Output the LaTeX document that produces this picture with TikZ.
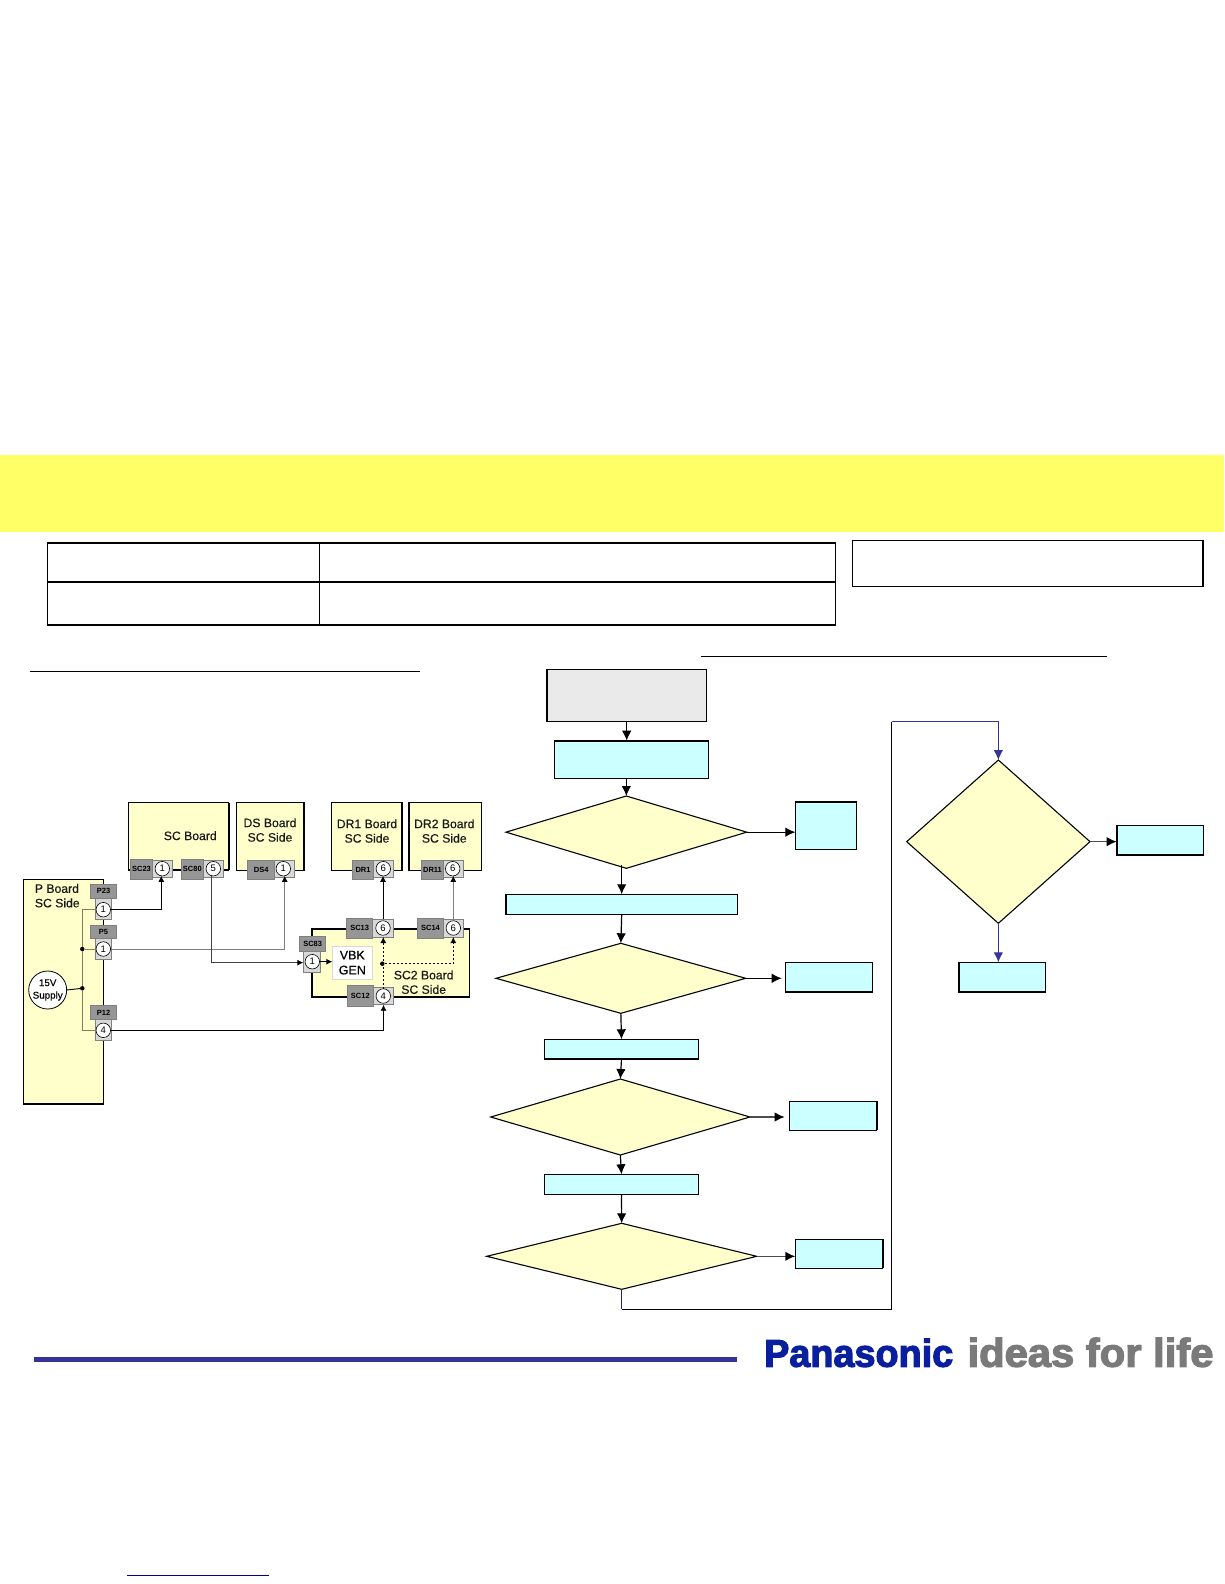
\documentclass[tikz,border=0pt]{standalone}
\usepackage{fontspec}
\setmainfont{Liberation Sans}
\newfontfamily\logofont[FakeBold=3]{Liberation Sans Bold}
\newfontfamily\medfont[FakeBold=0.35]{Liberation Sans}
\usetikzlibrary{arrows.meta,shapes.geometric,calc}
\definecolor{bandY}{HTML}{FFFF66}
\definecolor{boxC}{HTML}{CCFFFF}
\definecolor{diaY}{HTML}{FFFFCC}
\definecolor{startG}{HTML}{EAEAEA}
\definecolor{darkG}{HTML}{969696}
\definecolor{lightG}{HTML}{D9D9D9}
\definecolor{wireG}{HTML}{808080}
\definecolor{busG}{HTML}{807F5C}
\definecolor{navyB}{HTML}{333399}
\definecolor{linkB}{HTML}{000099}
\definecolor{logoB}{HTML}{0A1F9E}
\definecolor{logoG}{HTML}{7A7A7A}
\tikzset{
  plain/.style={rectangle,inner sep=0pt,outer sep=0pt},
  flowbox/.style={plain,draw=black,line width=1.1pt,fill=boxC},
  startbox/.style={plain,draw=black,line width=1.1pt,fill=startG},
  board/.style={plain,draw=black,line width=1.2pt,fill=diaY},
  conn/.style={plain,draw=wireG,line width=0.7pt,fill=darkG,font=\bfseries\fontsize{7.5}{8}\selectfont},
  pinbox/.style={plain,draw=wireG,line width=0.7pt,fill=lightG},
  pin/.style={circle,draw=black,line width=0.6pt,fill=white,minimum size=14.5pt,inner sep=0pt,outer sep=0pt,font=\fontsize{9.5}{9.5}\selectfont},
  dec/.style={diamond,draw=black,line width=1.1pt,fill=diaY,inner sep=0pt,outer sep=0pt},
  boardtext/.style={align=center,inner sep=0pt,font=\medfont\fontsize{12.2}{14.5}\selectfont,text=black!90},
  jdot/.style={circle,fill=black,minimum size=4.5pt,inner sep=0pt,outer sep=0pt},
  flow/.style={draw=black,line width=1.2pt,-{Latex[length=10pt,width=9.5pt]}},
  flowg/.style={draw=black!70,line width=1.5pt,arrows={-{Latex[length=10pt,width=9.5pt,black]}}},
  flowb/.style={draw=navyB,line width=1.1pt,-{Latex[length=10pt,width=9.5pt]}},
  wire/.style={draw=black,line width=0.9pt},
  wireg/.style={draw=wireG,line width=0.9pt},
  tip/.style={-{Latex[length=6pt,width=6pt,black]}},
  thickedge/.style={draw=black,line width=2.2pt},
  rule/.style={draw=black,line width=1.2pt},
}
\newcommand{\bx}[7]{\node[#6,minimum width={(#4-#2)*1pt},minimum height={(#5-#3)*1pt}] (#1) at ({(#2+#4)/2},{(#3+#5)/2}) {#7};}
\newcommand{\dm}[6]{\node[dec,minimum width={(#4-#2)*1pt},minimum height={(#5-#3)*1pt}] (#1) at ({(#2+#4)/2},{(#3+#5)/2}) {};}
\begin{document}
\begin{tikzpicture}[x=1pt,y=-1pt]
\useasboundingbox (0,0) rectangle (1224,1584);
\fill[white] (0,0) rectangle (1224,1584);
% band
\bx{band}{0}{454.5}{1224}{532}{plain,fill=bandY}{}
% table
\bx{t11}{47.5}{542.7}{319.3}{581.7}{plain,draw=black,line width=0.7pt}{}
\bx{t12}{319.3}{542.7}{835.5}{581.7}{plain,draw=black,line width=0.7pt}{}
\bx{t21}{47.5}{581.7}{319.3}{625}{plain,draw=black,line width=0.7pt}{}
\bx{t22}{319.3}{581.7}{835.5}{625}{plain,draw=black,line width=0.7pt}{}
\draw[thickedge] (t11.north west) -- (t12.north east);
\draw[thickedge] (t21.north west) -- (t22.north east);
\draw[thickedge] (t21.south west) -- (t22.south east);
\draw[draw=black,line width=1.6pt] (t12.north east) -- (t22.south east);
\bx{note}{852.5}{540.3}{1203}{586.7}{plain,draw=black,line width=1.3pt}{}
% underlines
\coordinate (ulLa) at (29.7,671.3); \coordinate (ulLb) at (420,671.3);
\coordinate (ulRa) at (701,656.3); \coordinate (ulRb) at (1107,656.3);
\draw[rule] (ulLa) -- (ulLb);
\draw[rule] (ulRa) -- (ulRb);
% flowchart boxes
\bx{st}{546.7}{669.3}{706.7}{721.7}{startbox}{}
\bx{c1}{554.3}{740.7}{708.7}{778.3}{flowbox}{}
\dm{d1}{506}{796}{746.7}{868.3}{}
\bx{r1}{795.3}{801.7}{856.7}{849.3}{flowbox}{}
\bx{c2}{505.7}{894.3}{737.7}{914.7}{flowbox}{}
\dm{d2}{496}{943.3}{745.7}{1013.3}{}
\bx{r2}{785.3}{962.3}{872.7}{992.3}{flowbox}{}
\bx{c3}{544.3}{1039.3}{698.7}{1059.3}{flowbox}{}
\dm{d3}{490.7}{1079}{750}{1155}{}
\bx{r3}{789.3}{1101.3}{876.7}{1130.3}{flowbox}{}
\bx{c4}{544.3}{1174.3}{698.7}{1194.3}{flowbox}{}
\dm{d4}{486.7}{1223.3}{756.7}{1289.3}{}
\bx{r4}{795.3}{1239.3}{882.7}{1268.3}{flowbox}{}
\dm{d5}{906.7}{760}{1090}{923.3}{}
\bx{r5}{1116.7}{825.7}{1203.7}{855}{flowbox}{}
\bx{b5}{958.7}{962.3}{1045.7}{992.3}{flowbox}{}
% heavier edges
\draw[thickedge] (st.north west) -- (st.south west);
\draw[thickedge] (c1.north west) -- (c1.north east);
\draw[thickedge] (r1.north west) -- (r1.north east);
\draw[thickedge] (c2.north west) -- (c2.south west);
\draw[thickedge] (r2.south west) -- (r2.south east);
\draw[thickedge] (c3.south west) -- (c3.south east);
\draw[thickedge] (r3.north east) -- (r3.south east);
\draw[thickedge] (r4.north east) -- (r4.south east);
\draw[thickedge] (r5.north west) -- (r5.south west);
\draw[thickedge] (r5.south west) -- (r5.south east);
\draw[thickedge] (b5.north west) -- (b5.south west);
\draw[thickedge] (b5.south west) -- (b5.south east);
% flow connectors
\draw[flow] (st.south) -- (st.south |- c1.north);
\draw[flow] (c1.south -| d1.north) -- (d1.north);
\draw[flow] ([yshift=3pt]d1.south -| c2.north) -- (c2.north);
\draw[flow] (c2.south) -- (d2.north);
\draw[flow] (d2.south) -- (c3.north);
\draw[flow] (c3.south) -- (d3.north);
\draw[flow] (d3.south) -- (c4.north);
\draw[flow] (c4.south) -- (d4.north);
\draw[flow,line width=0.9pt] (d1.east) -- (d1.east -| r1.west);
\draw[flow,line width=0.9pt,shorten >=3.6pt] (d2.east) -- (d2.east -| r2.west);
\draw[flowg,shorten >=4.6pt] (d3.east) -- (d3.east -| r3.west);
\draw[flowg] (d4.east) -- (d4.east -| r4.west);
\draw[flowg] (d5.east) -- (d5.east -| r5.west);
\coordinate (lpA) at (621.7,1309.3);
\coordinate (lpB) at (891.7,1309.3);
\coordinate (lpC) at (891.7,721.7);
\draw[draw=navyB!70!black,line width=1pt] (d4.south) -- (lpA);
\draw[draw=black,line width=1pt] (lpA) -- (lpB) -- (lpC);
\draw[flowb] (lpC) -| (d5.north);
\draw[flowb] (d5.south) -- (d5.south |- b5.north);
% boards
\bx{scb}{128.7}{802.7}{228.7}{870}{board}{}
\draw[thickedge] (scb.north east) -- (scb.south east);
\bx{dsb}{236.7}{802.7}{304}{870.7}{board}{}
\draw[thickedge] (dsb.north east) -- (dsb.south east);
\bx{dr1b}{331.7}{802.7}{402}{870.7}{board}{}
\bx{dr2b}{409}{802.7}{481.3}{870.7}{board}{}
\bx{pb}{23.7}{879.3}{103.3}{1104}{board}{}
\bx{sc2b}{312}{929}{469.3}{997}{board,line width=1.6pt}{}
\node[boardtext] (tsc) at (190.3,835.7) {SC Board};
\node[boardtext] (tds) at (270,830) {DS Board\\SC Side};
\node[boardtext] (tdr1) at (367,831) {DR1 Board\\SC Side};
\node[boardtext] (tdr2) at (444.3,831) {DR2 Board\\SC Side};
\node[boardtext,align=left,anchor=west] (tp) at (34.7,895.7) {P Board\\SC Side};
\node[boardtext] (tsc2) at (423.7,982.2) {SC2 Board\\SC Side};
% connector blocks
\bx{sc23g}{130.3}{859.3}{152.7}{879.3}{conn}{SC23}
\bx{sc23l}{152.7}{860.3}{172.7}{877.3}{pinbox}{}
\node[pin] (sc23c) at (162.3,868.7) {1};
\bx{sc80g}{181.3}{859.3}{203.3}{879.3}{conn}{SC80}
\bx{sc80l}{203.3}{860.3}{223.7}{877.3}{pinbox}{}
\node[pin] (sc80c) at (213.3,868.7) {5};
\bx{ds4g}{247.7}{860}{274.7}{879.3}{conn}{DS4}
\bx{ds4l}{274.7}{860.3}{294.7}{877.3}{pinbox}{}
\node[pin] (ds4c) at (283.3,868.7) {1};
\bx{dr1g}{352.3}{860}{373.7}{879.3}{conn}{DR1}
\bx{dr1l}{373.7}{860.3}{393.7}{877.3}{pinbox}{}
\node[pin] (dr1c) at (383.3,868.7) {6};
\bx{dr11g}{421.7}{860}{443.3}{879.3}{conn}{DR11}
\bx{dr11l}{443.3}{860.3}{463.3}{877.3}{pinbox}{}
\node[pin] (dr11c) at (452.7,868.7) {6};
\bx{p23g}{90.3}{884.3}{116.7}{898.3}{conn}{P23}
\bx{p23l}{95.3}{898.3}{111.7}{919.3}{pinbox}{}
\node[pin] (p23c) at (103.3,909.7) {1};
\bx{p5g}{90.3}{925.3}{116.7}{938.7}{conn}{P5}
\bx{p5l}{95.3}{938.7}{111.7}{959.3}{pinbox}{}
\node[pin] (p5c) at (103.3,949) {1};
\bx{p12g}{90.3}{1005.7}{116.7}{1019.3}{conn}{P12}
\bx{p12l}{95.3}{1019.3}{111.7}{1040.7}{pinbox}{}
\node[pin] (p12c) at (103.3,1030.3) {4};
\bx{sc13g}{346.7}{918.3}{372.7}{938.3}{conn}{SC13}
\bx{sc13l}{372.7}{919.3}{393.3}{937}{pinbox}{}
\node[pin] (sc13c) at (383,928) {6};
\bx{sc14g}{417.7}{918.3}{443.3}{938.3}{conn}{SC14}
\bx{sc14l}{443.3}{919.3}{463.3}{937}{pinbox}{}
\node[pin] (sc14c) at (453.3,928) {6};
\bx{sc83g}{299.7}{936.3}{325.7}{951.3}{conn}{SC83}
\bx{sc83l}{303.3}{951.3}{320.7}{972}{pinbox}{}
\node[pin] (sc83c) at (312.3,961.7) {1};
\bx{sc12g}{347.3}{985.7}{373.3}{1006.3}{conn}{SC12}
\bx{sc12l}{373.3}{987.3}{393.7}{1004.7}{pinbox}{}
\node[pin] (sc12c) at (383.3,996) {4};
\bx{vbk}{332.3}{946}{372.3}{979.3}{plain,fill=white,draw=black!15,line width=0.5pt,align=center,font=\medfont\fontsize{12.5}{15}\selectfont}{VBK\\GEN}
\node[circle,draw=black,line width=0.8pt,fill=white,minimum size=38pt,inner sep=0pt,outer sep=0pt,align=center,font=\medfont\fontsize{9.8}{12.5}\selectfont] (sup) at (47.7,990) {\raisebox{2pt}{15V}\\\raisebox{2pt}{Supply}};
\node[jdot] (j1) at (82.3,949) {};
\node[jdot] (j2) at (82.3,988.3) {};
\node[jdot] (vd) at (382.3,963.7) {};
% wires
\draw[draw=busG,line width=0.8pt] (p23c.west) -| (j1);
\draw[draw=busG,line width=0.8pt] (j1) -- (p5c.west);
\draw[draw=busG,line width=0.8pt] (j1) -- (j2);
\draw[draw=busG,line width=0.8pt] (j2) |- (p12c.west);
\draw[wire] (sup.east) -- (j2);
\draw[wire,tip,shorten >=-1.5pt] ([xshift=-1pt]p23c.east) -| ([xshift=-1.4pt]sc23l.south);
\draw[wireg,tip,shorten >=-1.5pt] (p5c.east) -| (ds4l.south);
\draw[wire,draw=black!75,tip] ([xshift=-2pt]sc80c.south) |- ([yshift=-1pt]sc83l.west);
\draw[wire,tip] (p12c.east) -| (sc12l.south);
\draw[wire,tip,shorten >=-1.5pt] (sc13l.north) -- (sc13l.north |- dr1l.south);
\draw[wireg,tip,shorten >=-1.5pt] (sc14l.north -| dr11l.south) -- (dr11l.south);
\draw[wire,dash pattern=on 2pt off 2pt,tip] (sc12c.north) -- (sc12c.north |- sc13l.south);
\draw[wire,dash pattern=on 2pt off 2pt,tip] (vd) -| (sc14l.south);
\draw[wire,tip] (sc83c.east) -- (vbk.west |- sc83c.east);
% footer
\bx{bar}{33.8}{1357}{737}{1362}{plain,fill=navyB}{}
\coordinate (lkA) at (126.9,1575.3); \coordinate (lkB) at (269,1575.3);
\draw[draw=linkB,line width=1pt] (lkA) -- (lkB);
\node[anchor=south west,inner sep=0pt,text=logoB] (lgA) at (764,1367.3) {\resizebox{189pt}{28pt}{\logofont Panasonic}};
\node[anchor=south west,inner sep=0pt,text=logoG] (lgB) at (967.3,1367.3) {\resizebox{246pt}{29pt}{\logofont ideas for life}};
\end{tikzpicture}
\end{document}
